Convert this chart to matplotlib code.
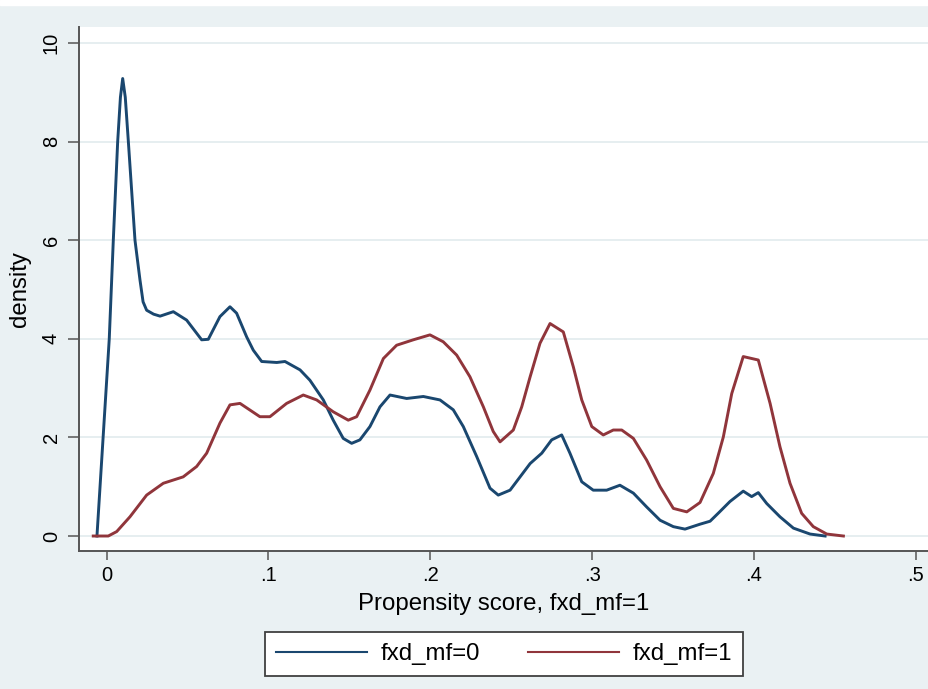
import matplotlib
matplotlib.use("Agg")
import matplotlib.pyplot as plt
from matplotlib.patches import Rectangle

# kernel density of the propensity score
x_mf0 = [-0.006, 0.0016, 0.0041, 0.0068, 0.0085, 0.0099, 0.0115, 0.0134, 0.0175, 0.0206,
         0.0225, 0.0247, 0.029, 0.033, 0.0412, 0.0494, 0.0587, 0.0628, 0.07, 0.0762,
         0.0803, 0.0865, 0.0906, 0.0958, 0.1051, 0.1102, 0.1195, 0.1256, 0.1339, 0.14,
         0.1462, 0.1514, 0.1565, 0.1627, 0.1689, 0.1751, 0.1854, 0.1957, 0.206, 0.2142,
         0.2204, 0.2287, 0.2369, 0.242, 0.2493, 0.2555, 0.2617, 0.2689, 0.275, 0.2812,
         0.2863, 0.2936, 0.3007, 0.309, 0.3172, 0.3255, 0.3337, 0.342, 0.3502, 0.3574,
         0.3667, 0.3729, 0.3785, 0.3852, 0.3934, 0.3986, 0.4027, 0.4079, 0.4161, 0.4244,
         0.4347, 0.444]
y_mf0 = [0, 4.0, 6.0, 8.0, 8.9, 9.28, 8.9, 8.0, 6.0, 5.19,
         4.75, 4.58, 4.5, 4.46, 4.55, 4.38, 3.98, 3.99, 4.45, 4.65,
         4.52, 4.04, 3.77, 3.54, 3.52, 3.54, 3.37, 3.16, 2.76, 2.35,
         1.98, 1.88, 1.95, 2.22, 2.62, 2.86, 2.79, 2.83, 2.76, 2.56,
         2.22, 1.61, 0.97, 0.83, 0.93, 1.2, 1.47, 1.68, 1.95, 2.05,
         1.68, 1.1, 0.93, 0.93, 1.03, 0.87, 0.59, 0.32, 0.19, 0.14,
         0.24, 0.30, 0.48, 0.7, 0.91, 0.8, 0.88, 0.66, 0.39, 0.16,
         0.04, 0.0]

x_mf1 = [-0.0083, 0.001, 0.0062, 0.0144, 0.0247, 0.035, 0.0473, 0.0556, 0.0618, 0.07,
         0.0762, 0.0824, 0.0947, 0.1009, 0.1112, 0.1215, 0.1298, 0.14, 0.1493, 0.1545,
         0.1627, 0.171, 0.1792, 0.1895, 0.1998, 0.208, 0.2163, 0.2245, 0.2328, 0.2389,
         0.2431, 0.2513, 0.2565, 0.2617, 0.2678, 0.274, 0.2822, 0.2884, 0.2936, 0.2998,
         0.3069, 0.3131, 0.3183, 0.3255, 0.3337, 0.342, 0.3502, 0.3585, 0.3667, 0.3749,
         0.3811, 0.3863, 0.3934, 0.4027, 0.41, 0.4161, 0.4223, 0.4295, 0.4367, 0.445,
         0.4553]
y_mf1 = [0.0, 0.0, 0.09, 0.39, 0.83, 1.07, 1.2, 1.41, 1.68, 2.29,
         2.66, 2.69, 2.42, 2.42, 2.69, 2.86, 2.76, 2.52, 2.35, 2.42,
         2.96, 3.6, 3.87, 3.98, 4.08, 3.94, 3.67, 3.23, 2.62, 2.12,
         1.91, 2.15, 2.62, 3.23, 3.91, 4.31, 4.14, 3.43, 2.76, 2.22,
         2.05, 2.15, 2.15, 1.98, 1.54, 1.0, 0.56, 0.49, 0.68, 1.27,
         2.01, 2.89, 3.64, 3.57, 2.69, 1.81, 1.07, 0.46, 0.19, 0.04,
         0.0]

xticks = [0, 0.1, 0.2, 0.3, 0.4, 0.5]
xtick_labels = ["0", ".1", ".2", ".3", ".4", ".5"]
yticks = [0, 2, 4, 6, 8, 10]
ytick_labels = ["0", "2", "4", "6", "8", "10"]

plt.rcParams["font.family"] = ["Liberation Sans", "DejaVu Sans"]

fig = plt.figure(figsize=(9.29, 6.89), dpi=100, facecolor="#eaf1f3")
fig.patches.append(Rectangle((0, 1 - 5 / 689), 1, 5 / 689, transform=fig.transFigure,
                             color="white", zorder=0))

ax = fig.add_axes([79 / 929, 138 / 689, 850 / 929, 524 / 689])
ax.set_facecolor("white")

ax.plot(x_mf0, y_mf0, color="#1a476f", lw=2.1, label="fxd_mf=0", zorder=3)
ax.plot(x_mf1, y_mf1, color="#90353b", lw=2.1, label="fxd_mf=1", zorder=3)

ax.set_xlim(-0.0171, 0.5082)
ax.set_ylim(-0.304, 10.325)

ax.set_xticks(xticks)
ax.set_xticklabels(xtick_labels)
ax.set_yticks(yticks)
ax.set_yticklabels(ytick_labels, rotation=90, va="center")

ax.grid(axis="y", color="#e6eef0", lw=1.4, zorder=1)
ax.set_axisbelow(True)

for side in ["top", "right"]:
    ax.spines[side].set_visible(False)
for side in ["left", "bottom"]:
    ax.spines[side].set_color("#555555")
    ax.spines[side].set_linewidth(1.4)

ax.tick_params(axis="x", length=6.5, width=1.1, color="#555555", pad=4, labelsize=14.5)
ax.tick_params(axis="y", length=8, width=1.1, color="#555555", pad=5, labelsize=14.5)

ax.set_xlabel("Propensity score, fxd_mf=1", fontsize=17.3, labelpad=6)
ax.set_ylabel("density", fontsize=17.3, labelpad=8)

leg = ax.legend(loc="center", bbox_to_anchor=(504 / 929, 1 - 654 / 689),
                bbox_transform=fig.transFigure, ncol=2, fontsize=17.3,
                handlelength=3.8, handletextpad=0.55, columnspacing=2.0,
                borderpad=0.45, fancybox=False, framealpha=1)
leg.get_frame().set_edgecolor("#404040")
leg.get_frame().set_linewidth(1.3)
for line in leg.get_lines():
    line.set_linewidth(1.5)

fig.savefig("out.png", dpi=100, facecolor=fig.get_facecolor())
